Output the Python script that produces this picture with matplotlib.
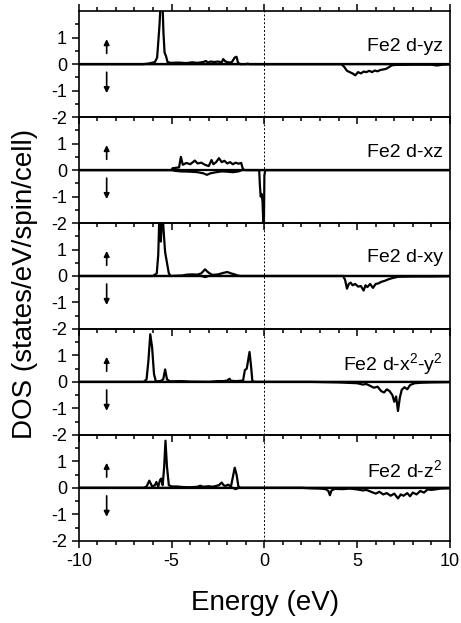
import numpy as np
import matplotlib
matplotlib.use("Agg")
import matplotlib.pyplot as plt

plt.rcParams['font.family'] = 'Liberation Sans'
plt.rcParams['mathtext.fontset'] = 'custom'
plt.rcParams['mathtext.rm'] = 'Liberation Sans'
plt.rcParams['mathtext.default'] = 'regular'

# panel labels, top to bottom
labels = ['Fe2 d-yz', 'Fe2 d-xz', 'Fe2 d-xy', 'Fe2 d-x$^2$-y$^2$', 'Fe2 d-z$^2$']

# ---- d-yz ----
yz_up_e = [-10, -6.5, -6.2, -5.9, -5.78, -5.65, -5.58, -5.5, -5.44, -5.38, -5.3, -5.22, -5.05, -4.6, -4.2,
           -3.9, -3.6, -3.3, -3.15, -3.05, -2.9, -2.7, -2.5, -2.3, -2.22, -2.1, -1.9, -1.75, -1.6, -1.5,
           -1.42, -1.3, -1.0, -0.9, -0.8, 10]
yz_up = [0, 0, 0.03, 0.08, 0.25, 1.5, 2.5, 2.5, 1.2, 0.44, 0.3, 0.08, 0.05, 0.06, 0.04,
         0.07, 0.05, 0.08, 0.12, 0.06, 0.1, 0.08, 0.1, 0.07, 0.19, 0.1, 0.06, 0.08, 0.25, 0.28,
         0.05, 0, 0, 0.02, 0, 0]
yz_dn_e = [-10, 4.15, 4.3, 4.45, 4.6, 4.75, 4.9, 5.05, 5.2, 5.35, 5.5, 5.65, 5.8, 5.95, 6.1, 6.25, 6.4,
           6.55, 6.7, 6.85, 7.0, 8.0, 9.0, 9.3, 9.6, 10]
yz_dn = [0, 0, -0.1, -0.25, -0.3, -0.35, -0.42, -0.3, -0.35, -0.28, -0.3, -0.25, -0.3, -0.24, -0.27, -0.22, -0.2,
         -0.18, -0.12, -0.05, -0.03, -0.02, -0.02, -0.05, -0.02, -0.01]

# ---- d-xz ----
xz_up_e = [-10, -5.0, -4.95, -4.6, -4.5, -4.4, -4.2, -4.0, -3.85, -3.75, -3.6, -3.4, -3.2, -3.0, -2.85,
           -2.75, -2.6, -2.45, -2.3, -2.15, -2.0, -1.85, -1.7, -1.55, -1.4, -1.25, -1.15, -1.0, 10]
xz_up = [0, 0, 0.07, 0.1, 0.5, 0.2, 0.27, 0.22, 0.3, 0.36, 0.25, 0.28, 0.2, 0.15, 0.38,
         0.22, 0.3, 0.45, 0.3, 0.35, 0.25, 0.3, 0.22, 0.28, 0.24, 0.27, 0.02, 0, 0]
xz_dn_e = [-10, -5.0, -4.8, -4.5, -4.0, -3.6, -3.3, -3.1, -2.9, -2.6, -2.3, -2.0, -1.7, -1.4, -1.2,
           -0.28, -0.24, -0.2, -0.15, -0.1, -0.03, 0.0, 0.05, 10]
xz_dn = [0, 0, -0.03, -0.05, -0.06, -0.08, -0.12, -0.18, -0.12, -0.08, -0.05, -0.06, -0.08, -0.05, 0,
         0, -0.6, -1.0, -0.9, -1.2, -2.5, -0.2, 0, 0]

# ---- d-xy ----
xy_up_e = [-10, -6.0, -5.8, -5.72, -5.65, -5.58, -5.5, -5.42, -5.35, -5.25, -5.15, -5.05, -4.4, -4.2,
           -3.9, -3.6, -3.4, -3.2, -3.0, -2.8, -2.5, -2.2, -2.0, -1.8, -1.6, -1.45, -1.3, 10]
xy_up = [0, 0, 0.1, 0.8, 2.5, 1.3, 2.5, 1.6, 0.9, 0.5, 0.1, 0, 0.02, 0.05,
         0.06, 0.05, 0.1, 0.25, 0.12, 0.04, 0.06, 0.12, 0.15, 0.1, 0.06, 0.02, 0, 0]
xy_dn_e = [-10, -3.4, -3.2, -3.0, 4.25, 4.35, 4.45, 4.55, 4.65, 4.75, 4.9, 5.05, 5.2, 5.35, 5.45, 5.55,
           5.7, 5.85, 6.0, 6.15, 6.3, 6.5, 6.7, 6.9, 7.2, 8.0, 9.0, 10]
xy_dn = [0, 0, -0.04, 0, 0, -0.15, -0.48, -0.3, -0.25, -0.35, -0.3, -0.4, -0.38, -0.55, -0.35, -0.42,
         -0.3, -0.45, -0.3, -0.28, -0.22, -0.18, -0.12, -0.08, -0.03, -0.02, -0.02, -0.01]

# ---- d-x2-y2 ----
x2y2_up_e = [-10, -6.5, -6.35, -6.25, -6.15, -6.05, -5.95, -5.85, -5.6, -5.45, -5.35, -5.25, -5.1, -4.5,
             -4.0, -3.0, -2.5, -2.2, -2.0, -1.88, -1.8, -1.5, -1.15, -1.05, -0.95, -0.88, -0.8, -0.72,
             -0.65, -0.55, 10]
x2y2_up = [0, 0, 0.1, 0.8, 1.8, 1.3, 0.3, 0.02, 0.03, 0.1, 0.47, 0.1, 0.02, 0.03,
           0.01, 0.0, 0.03, 0.03, 0.05, 0.12, 0.04, 0.03, 0.05, 0.45, 0.5, 0.8, 1.13, 0.6,
           0.05, 0, 0]
x2y2_dn_e = [-10, 2.5, 4.0, 5.0, 5.3, 5.5, 5.7, 5.9, 6.1, 6.3, 6.45, 6.6, 6.75, 6.9, 7.0, 7.1, 7.2,
             7.3, 7.4, 7.55, 7.7, 7.85, 8.1, 8.5, 9.0, 10]
x2y2_dn = [0, 0, -0.02, -0.05, -0.1, -0.08, -0.15, -0.22, -0.18, -0.35, -0.4, -0.28, -0.35, -0.5, -0.75, -0.55, -1.1,
           -0.6, -0.3, -0.2, -0.28, -0.12, -0.05, -0.03, -0.02, -0.01]

# ---- d-z2 ----
z2_up_e = [-10, -6.5, -6.35, -6.2, -6.05, -5.9, -5.82, -5.72, -5.62, -5.55, -5.48, -5.4, -5.33, -5.25,
           -5.15, -5.0, -4.7, -4.4, -4.0, -3.6, -3.45, -3.3, -3.0, -2.8, -2.6, -2.45, -2.3, -2.2, -2.1,
           -1.95, -1.8, -1.7, -1.6, -1.5, -1.4, -1.3, 10]
z2_up = [0, 0, 0.05, 0.27, 0.05, 0.1, 0.22, 0.05, 0.3, 0.35, 0.1, 0.8, 1.78, 0.8,
         0.1, 0.05, 0.05, 0.03, 0.02, 0.04, 0.08, 0.04, 0.06, 0.04, 0.07, 0.1, 0.2, 0.1, 0.07,
         0.12, 0.05, 0.4, 0.76, 0.5, 0.05, 0, 0]
z2_dn_e = [-10, -1.7, -1.55, -1.4, 2.0, 2.5, 3.0, 3.3, 3.45, 3.53, 3.62, 3.8, 4.2, 4.6, 5.0, 5.3, 5.5,
           5.75, 6.0, 6.2, 6.4, 6.6, 6.8, 7.0, 7.2, 7.35, 7.5, 7.7, 7.85, 8.0, 8.2, 8.4, 8.6, 8.8,
           9.0, 9.5, 10]
z2_dn = [0, 0, -0.05, 0, 0, -0.02, -0.03, -0.05, -0.12, -0.28, -0.1, -0.04, -0.05, -0.03, -0.06, -0.1, -0.08,
         -0.15, -0.22, -0.15, -0.25, -0.2, -0.3, -0.22, -0.4, -0.25, -0.3, -0.2, -0.32, -0.18, -0.25, -0.12, -0.18, -0.06,
         -0.08, -0.03, -0.02]

up_e = [yz_up_e, xz_up_e, xy_up_e, x2y2_up_e, z2_up_e]
up = [yz_up, xz_up, xy_up, x2y2_up, z2_up]
dn_e = [yz_dn_e, xz_dn_e, xy_dn_e, x2y2_dn_e, z2_dn_e]
dn = [yz_dn, xz_dn, xy_dn, x2y2_dn, z2_dn]

fig, axes = plt.subplots(5, 1, sharex=True, figsize=(4.61, 6.23), dpi=100)
fig.subplots_adjust(left=0.171, right=0.976, top=0.982, bottom=0.132, hspace=0)

for i, ax in enumerate(axes):
    ax.set_facecolor('none')
    ax.plot(up_e[i], up[i], color='k', lw=1.6)
    ax.plot(dn_e[i], dn[i], color='k', lw=1.6)
    ax.axhline(0, color='k', lw=1.6)
    ax.axvline(0, color='k', lw=0.7, linestyle=(0, (2, 2)))

    # spin arrows
    ax.annotate('', xy=(-8.5, 1.05), xytext=(-8.5, 0.3),
                arrowprops=dict(arrowstyle='-|>', color='k', lw=1.2, mutation_scale=8))
    ax.annotate('', xy=(-8.5, -1.2), xytext=(-8.5, -0.2),
                arrowprops=dict(arrowstyle='-|>', color='k', lw=1.2, mutation_scale=8))

    ax.text(9.6, 0.68, labels[i], ha='right', va='center', fontsize=14)

    ax.set_xlim(-10, 10)
    ax.set_ylim(-2, 2)
    ax.set_yticks([-2, -1, 0, 1])
    ax.set_yticks([-1.5, -0.5, 0.5, 1.5], minor=True)
    ax.set_xticks([-10, -5, 0, 5, 10])
    ax.set_xticks(np.arange(-10, 11, 1), minor=True)
    ax.tick_params(which='both', direction='out', top=False, right=False, labelsize=13)
    ax.tick_params(which='major', length=5, width=1.1)
    ax.tick_params(which='minor', length=3, width=1.1)
    for s in ax.spines.values():
        s.set_linewidth(1.2)

axes[0].tick_params(which='both', top=True, labeltop=False)
axes[-1].set_xticklabels(['-10', '-5', '0', '5', '10'])
for ax in axes:
    ax.set_yticklabels(['-2', '-1', '0', '1'])

fig.text(0.055, 0.545, 'DOS (states/eV/spin/cell)', rotation=90, ha='center', va='center', fontsize=20)
fig.text(0.575, 0.021, 'Energy (eV)', ha='center', va='baseline', fontsize=20)

fig.savefig('out.png', dpi=100)
